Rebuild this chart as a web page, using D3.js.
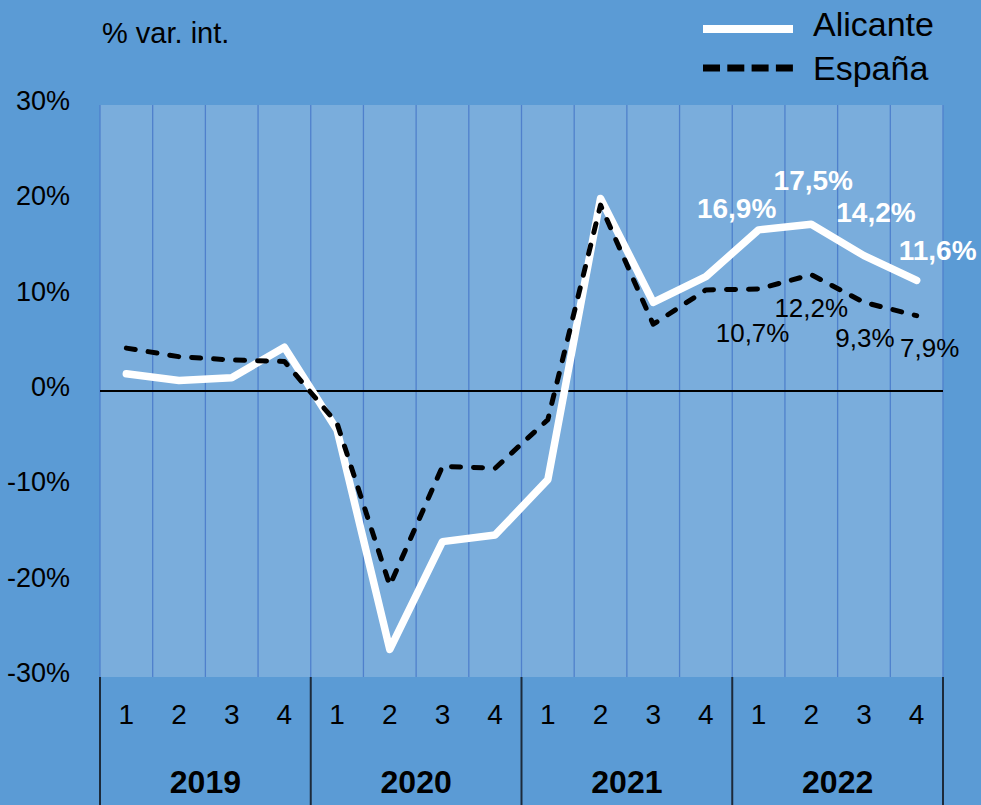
<!DOCTYPE html>
<html>
<head>
<meta charset="utf-8">
<script src="https://cdn.jsdelivr.net/npm/d3@7"></script>
<style>
  html, body { margin: 0; padding: 0; background: #5b9bd5; }
  svg { display: block; font-family: "Liberation Sans", Arial, sans-serif; }
</style>
</head>
<body>
<script>
// Alicante vs España, variación interanual por trimestre

var years = ["2019", "2020", "2021", "2022"];
var quarters = ["1", "2", "3", "4"];
var alicante = [1.8, 1.1, 1.4, 4.6, -4.1, -27.1, -15.8, -15.1, -9.3, 20.2, 9.3, 12.0, 16.9, 17.5, 14.2, 11.6];
var espana = [4.5, 3.6, 3.25, 3.1, -3.4, -20.4, -7.9, -8.1, -3.0, 19.5, 7.0, 10.6, 10.7, 12.2, 9.3, 7.9];
var yTicks = [-30, -20, -10, 0, 10, 20, 30];
var labelIdx = [12, 13, 14, 15]; // the four 2022 quarters carry labels
var aliLabels = ["16,9%", "17,5%", "14,2%", "11,6%"];
var espLabels = ["10,7%", "12,2%", "9,3%", "7,9%"];

var width = 981,
    height = 805,
    plotLeft = 100, plotRight = 943, plotTop = 105, plotBottom = 677;

var keys = [];
years.forEach(function(y) { quarters.forEach(function(q) { keys.push(y + "-" + q); }); });

var x = d3.scaleBand().domain(keys).range([plotLeft, plotRight]).paddingInner(0).paddingOuter(0);
var y = d3.scaleLinear().domain([-30, 30]).range([plotBottom, plotTop]);
var cx = function(i) { return x(keys[i]) + x.bandwidth() / 2; };

var svg = d3.select("body").append("svg")
    .attr("width", width)
    .attr("height", height);

svg.append("rect").attr("width", width).attr("height", height).attr("fill", "#5b9bd5");

// plot area
svg.append("rect")
    .attr("x", plotLeft).attr("y", plotTop)
    .attr("width", plotRight - plotLeft).attr("height", plotBottom - plotTop)
    .attr("fill", "#7aaddc");

// vertical gridlines on every band edge
var edges = keys.map(function(k) { return x(k); }).concat([plotRight]);
svg.append("g").selectAll("line").data(edges).join("line")
    .attr("x1", function(d) { return d; }).attr("x2", function(d) { return d; })
    .attr("y1", plotTop).attr("y2", plotBottom)
    .attr("stroke", "#4f80cc").attr("stroke-width", 1.3);

// zero line
svg.append("line")
    .attr("x1", plotLeft).attr("x2", plotRight)
    .attr("y1", y(0)).attr("y2", y(0))
    .attr("stroke", "#000").attr("stroke-width", 2);

// y axis labels
svg.append("g").selectAll("text").data(yTicks).join("text")
    .attr("x", 70).attr("y", function(d) { return y(d) + 5; })
    .attr("text-anchor", "end")
    .attr("font-size", 27)
    .text(function(d) { return d + "%"; });

svg.append("text")
    .attr("x", 102).attr("y", 43)
    .attr("font-size", 29)
    .text("% var. int.");

// x axis: quarters and years
svg.append("g").selectAll("text").data(keys).join("text")
    .attr("x", function(d) { return x(d) + x.bandwidth() / 2; })
    .attr("y", 724)
    .attr("text-anchor", "middle")
    .attr("font-size", 28)
    .text(function(d) { return d.split("-")[1]; });

var yearEdges = years.map(function(yr) { return x(yr + "-1"); }).concat([plotRight]);
svg.append("g").selectAll("line").data(yearEdges).join("line")
    .attr("x1", function(d) { return d; }).attr("x2", function(d) { return d; })
    .attr("y1", plotBottom).attr("y2", height)
    .attr("stroke", "#1c2a3a").attr("stroke-width", 2);

svg.append("g").selectAll("text").data(years).join("text")
    .attr("x", function(yr) { return (x(yr + "-1") + x(yr + "-4") + x.bandwidth()) / 2; })
    .attr("y", 793)
    .attr("text-anchor", "middle")
    .attr("font-size", 32)
    .attr("font-weight", "bold")
    .text(function(d) { return d; });

// lines
var line = d3.line()
    .x(function(d, i) { return cx(i); })
    .y(function(d) { return y(d); });

svg.append("path").datum(alicante)
    .attr("d", line)
    .attr("fill", "none")
    .attr("stroke", "#fff").attr("stroke-width", 7.5)
    .attr("stroke-linejoin", "round").attr("stroke-linecap", "round");

svg.append("path").datum(espana)
    .attr("d", line)
    .attr("fill", "none")
    .attr("stroke", "#000").attr("stroke-width", 5)
    .attr("stroke-dasharray", "9,13")
    .attr("stroke-linejoin", "round").attr("stroke-linecap", "round");

// data labels (nudged by hand like the original)
var aliNudge = [[-22, -12], [2, -34], [12, -34], [21, -20]];
var espNudge = [[-6, 53], [0, 42], [1, 45], [13, 41]];

svg.append("g").selectAll("text").data(labelIdx).join("text")
    .attr("x", function(d, i) { return cx(d) + aliNudge[i][0]; })
    .attr("y", function(d, i) { return y(alicante[d]) + aliNudge[i][1]; })
    .attr("text-anchor", "middle")
    .attr("font-size", 28).attr("font-weight", "bold")
    .attr("fill", "#fff")
    .text(function(d, i) { return aliLabels[i]; });

svg.append("g").selectAll("text").data(labelIdx).join("text")
    .attr("x", function(d, i) { return cx(d) + espNudge[i][0]; })
    .attr("y", function(d, i) { return y(espana[d]) + espNudge[i][1]; })
    .attr("text-anchor", "middle")
    .attr("font-size", 26)
    .attr("fill", "#000")
    .text(function(d, i) { return espLabels[i]; });

// legend
var legend = svg.append("g");
legend.append("line")
    .attr("x1", 703).attr("x2", 793).attr("y1", 29).attr("y2", 29)
    .attr("stroke", "#fff").attr("stroke-width", 8);
legend.append("line")
    .attr("x1", 703).attr("x2", 793).attr("y1", 68).attr("y2", 68)
    .attr("stroke", "#000").attr("stroke-width", 7)
    .attr("stroke-dasharray", "17,7.3");
legend.append("text").attr("x", 813).attr("y", 36).attr("font-size", 34).text("Alicante");
legend.append("text").attr("x", 813).attr("y", 80).attr("font-size", 34).text("España");
</script>
</body>
</html>
